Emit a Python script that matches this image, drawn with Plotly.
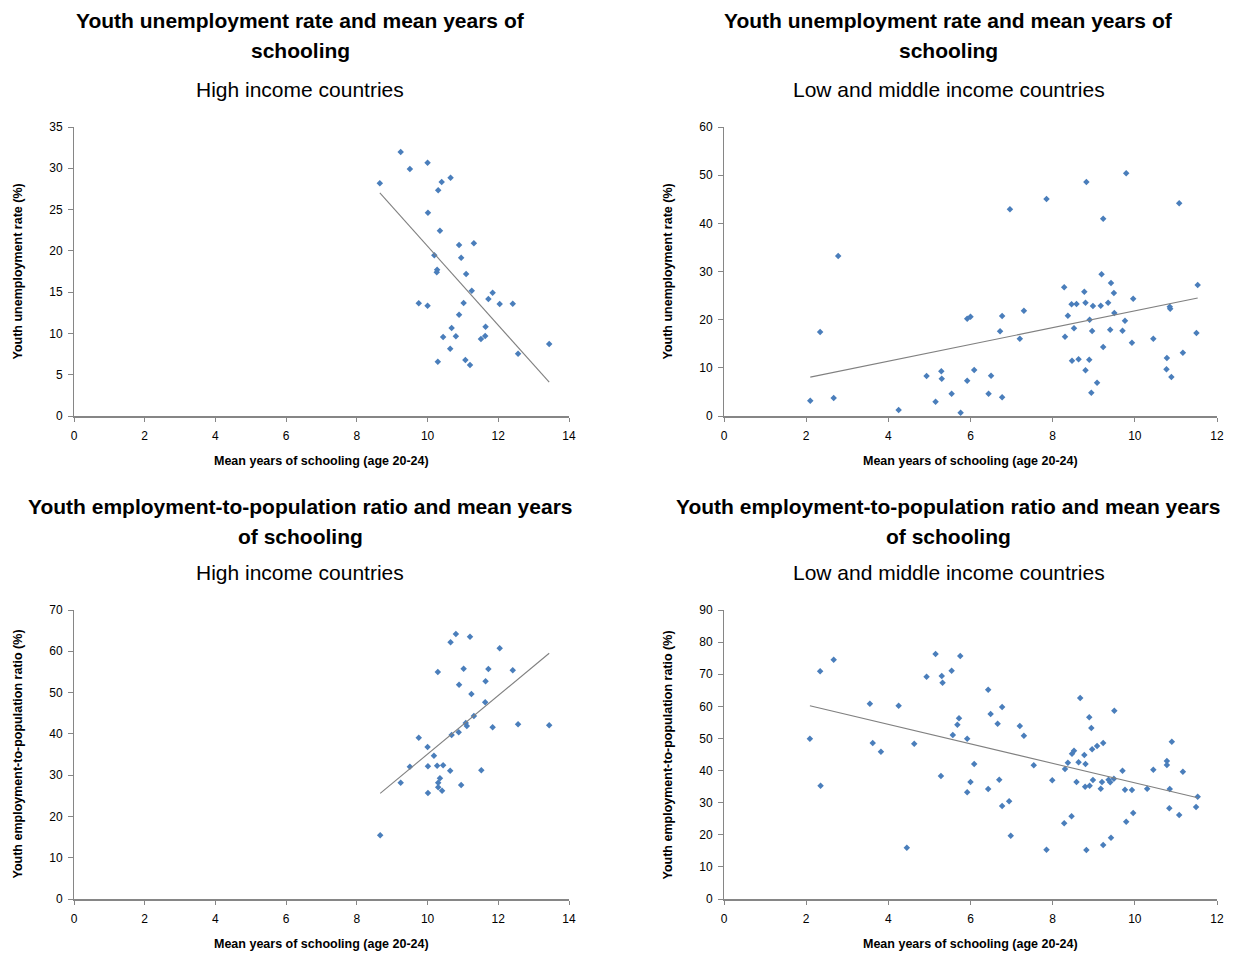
import numpy as np
import plotly.graph_objects as go

# ---------------- Data ----------------
# Top-left: High income countries, unemployment
hi_unemp_x = [9.24, 10.00, 9.50, 8.65, 10.65, 10.40, 10.30, 10.01, 10.35, 10.89, 11.31, 10.19, 10.95,
              10.27, 10.26, 11.09, 11.25, 11.84, 11.72, 9.75, 10.00, 11.02, 12.04, 12.41, 10.89, 10.68,
              11.64, 10.44, 10.80, 11.63, 11.51, 10.64, 13.44, 12.56, 10.29, 11.07, 11.20]
hi_unemp_y = [31.97, 30.68, 29.91, 28.18, 28.86, 28.34, 27.33, 24.62, 22.44, 20.71, 20.92, 19.46, 19.17,
              17.72, 17.40, 17.20, 15.17, 14.93, 14.17, 13.65, 13.36, 13.69, 13.56, 13.60, 12.27, 10.66,
              10.81, 9.57, 9.65, 9.69, 9.33, 8.15, 8.72, 7.55, 6.58, 6.78, 6.18]

# Top-right: Low and middle income countries, unemployment
lm_unemp_x = [2.10, 2.34, 2.78, 2.67, 4.25, 4.93, 5.15, 5.29, 5.30, 5.54, 5.76, 5.92, 6.00, 5.92, 6.09,
              6.50, 6.44, 6.77, 6.72, 6.77, 6.96, 7.30, 7.20, 7.85, 8.28, 8.30, 8.37, 8.46, 8.47, 8.52,
              8.58, 8.63, 8.77, 8.80, 8.80, 8.82, 8.90, 8.89, 8.94, 8.98, 8.96, 9.08, 9.17, 9.19, 9.23,
              9.23, 9.35, 9.40, 9.42, 9.49, 9.50, 9.70, 9.76, 9.79, 9.93, 9.96, 10.45, 10.78, 10.77,
              10.85, 10.86, 10.89, 11.08, 11.17, 11.50, 11.53]
lm_unemp_y = [3.18, 17.44, 33.22, 3.74, 1.25, 8.30, 2.97, 9.28, 7.74, 4.63, 0.69, 20.20, 20.61, 7.33, 9.55,
              8.37, 4.63, 20.76, 17.58, 3.88, 42.93, 21.86, 16.05, 45.05, 26.72, 16.46, 20.82, 23.19, 11.48, 18.21,
              23.25, 11.77, 25.80, 23.52, 9.49, 48.58, 19.99, 11.69, 4.84, 22.84, 17.65, 6.91, 22.90, 29.42, 40.96,
              14.32, 23.52, 17.92, 27.61, 25.53, 21.38, 17.71, 19.78, 50.38, 15.22, 24.35, 16.05, 12.04, 9.69,
              22.69, 22.28, 8.10, 44.16, 13.14, 17.23, 27.20]

# Bottom-left: High income countries, employment-to-population
hi_emp_x = [10.80, 11.20, 10.65, 12.04, 10.29, 11.02, 11.72, 12.41, 10.89, 11.64, 11.24, 11.63, 11.31,
            11.08, 11.11, 11.84, 12.56, 13.44, 10.88, 10.68, 9.75, 10.00, 10.18, 9.50, 10.01, 10.27,
            10.44, 10.64, 11.52, 10.35, 9.24, 10.30, 10.95, 10.30, 10.01, 10.41, 8.66]
hi_emp_y = [64.18, 63.53, 62.17, 60.72, 54.98, 55.78, 55.70, 55.39, 51.90, 52.72, 49.65, 47.64, 44.32,
            42.63, 41.90, 41.58, 42.31, 42.07, 40.37, 39.72, 39.07, 36.81, 34.71, 32.04, 32.14, 32.28,
            32.38, 31.07, 31.17, 29.23, 28.17, 28.17, 27.61, 27.05, 25.67, 26.23, 15.43]

# Bottom-right: Low and middle income countries, employment-to-population
lm_emp_x = [2.09, 2.34, 2.35, 2.67, 3.55, 3.62, 3.82, 4.25, 4.45, 4.63, 4.93, 5.15, 5.30, 5.32, 5.28,
            5.54, 5.57, 5.72, 5.68, 5.75, 5.92, 5.92, 6.00, 6.09, 6.43, 6.43, 6.49, 6.66, 6.70, 6.77,
            6.77, 6.94, 6.98, 7.20, 7.30, 7.54, 7.85, 7.99, 8.28, 8.30, 8.37, 8.46, 8.47, 8.52, 8.58,
            8.63, 8.67, 8.77, 8.80, 8.79, 8.82, 8.89, 8.90, 8.94, 8.96, 8.98, 9.08, 9.17, 9.20, 9.23,
            9.23, 9.36, 9.40, 9.42, 9.49, 9.50, 9.70, 9.76, 9.79, 9.93, 9.96, 10.30, 10.45, 10.78,
            10.78, 10.85, 10.84, 10.90, 11.08, 11.17, 11.49, 11.53]
lm_emp_y = [49.92, 70.91, 35.28, 74.53, 60.82, 48.58, 45.87, 60.20, 15.98, 48.37, 69.23, 76.30, 69.45, 67.36, 38.31,
            71.10, 51.07, 56.28, 54.28, 75.68, 49.92, 33.23, 36.44, 42.04, 65.18, 34.26, 57.61, 54.59, 37.15, 59.79,
            28.96, 30.43, 19.71, 53.88, 50.86, 41.64, 15.35, 36.97, 23.58, 40.49, 42.45, 25.75, 45.25, 46.19, 36.44,
            42.57, 62.60, 44.85, 42.04, 34.97, 15.26, 56.59, 35.28, 53.25, 46.62, 37.06, 47.65, 34.35, 36.44, 48.58,
            16.82, 37.15, 36.34, 19.09, 37.46, 58.64, 39.96, 34.04, 24.07, 33.95, 26.78, 34.35, 40.27, 42.98,
            41.73, 34.26, 28.25, 48.99, 26.16, 39.64, 28.65, 31.86]

title_line1 = ["Youth unemployment rate and mean years of",
               "Youth unemployment rate and mean years of",
               "Youth employment-to-population ratio and mean years",
               "Youth employment-to-population ratio and mean years"]
title_line2 = ["schooling", "schooling", "of schooling", "of schooling"]
subtitles = ["High income countries", "Low and middle income countries",
             "High income countries", "Low and middle income countries"]
x_title = "Mean years of schooling (age 20-24)"
y_titles = ["Youth unemployment rate (%)", "Youth unemployment rate (%)",
            "Youth employment-to-population ratio (%)", "Youth employment-to-population ratio (%)"]
x_ranges = [[0, 14], [0, 12], [0, 14], [0, 12]]
y_ranges = [[0, 35], [0, 60], [0, 70], [0, 90]]
y_dticks = [5, 10, 10, 10]

datasets = [(hi_unemp_x, hi_unemp_y), (lm_unemp_x, lm_unemp_y),
            (hi_emp_x, hi_emp_y), (lm_emp_x, lm_emp_y)]

# ---------------- Layout geometry ----------------
W, H = 1235, 954
FONT = "Liberation Sans, Arial, sans-serif"
MARK = "#4A7EBB"

# pixel boxes (left, right, top, bottom)
boxes = [(74, 569, 127, 416), (724, 1217, 127, 416),
         (74, 569, 610, 899), (724, 1217, 610, 899)]
title_y = [(21, 51, 89), (21, 51, 89), (506, 536, 572), (506, 536, 572)]
title_cx = [300, 949, 300, 949]

fig = go.Figure()
annotations = []
layout_axes = {}


def ann(text, cx, cy, size, angle=0):
    return dict(text=text, x=cx / W, y=1 - cy / H, xref="paper", yref="paper",
                showarrow=False, xanchor="center", yanchor="middle", textangle=angle,
                font=dict(family=FONT, size=size, color="#000"))


for i, ((xs, ys), box) in enumerate(zip(datasets, boxes)):
    n = "" if i == 0 else str(i + 1)
    xa, ya = "x" + n, "y" + n
    fig.add_trace(go.Scatter(x=xs, y=ys, mode="markers", xaxis=xa, yaxis=ya,
                             marker=dict(symbol="diamond", size=5, color=MARK),
                             showlegend=False, hoverinfo="x+y"))
    # linear trendline
    k, b = np.polyfit(xs, ys, 1)
    lx = np.array([min(xs), max(xs)])
    fig.add_trace(go.Scatter(x=lx, y=k * lx + b, mode="lines", xaxis=xa, yaxis=ya,
                             line=dict(color="#808080", width=1.1),
                             showlegend=False, hoverinfo="skip"))
    l, r, t, bt = box
    layout_axes["xaxis" + n] = dict(
        domain=[l / W, r / W], range=x_ranges[i], dtick=2, anchor=ya, automargin=False,
        showgrid=False, zeroline=False, showline=True, linecolor="#868686", linewidth=2,
        ticks="outside", ticklen=4, tickcolor="#868686", ticklabelstandoff=4,
        tickfont=dict(family=FONT, size=12, color="#000"))
    layout_axes["yaxis" + n] = dict(
        domain=[1 - bt / H, 1 - t / H], range=y_ranges[i], dtick=y_dticks[i], anchor=xa,
        automargin=False,
        showgrid=False, zeroline=False, showline=True, linecolor="#868686", linewidth=1,
        ticks="outside", ticklen=5, tickcolor="#868686", ticklabelstandoff=3,
        tickfont=dict(family=FONT, size=12, color="#000"))
    ty1, ty2, ty3 = title_y[i]
    annotations.append(ann("<b>" + title_line1[i] + "</b>", title_cx[i], ty1, 21))
    annotations.append(ann("<b>" + title_line2[i] + "</b>", title_cx[i], ty2, 21))
    annotations.append(ann(subtitles[i], title_cx[i], ty3, 21))
    annotations.append(ann("<b>" + x_title + "</b>", (l + r) / 2, bt + 45, 12.5))
    annotations.append(ann("<b>" + y_titles[i] + "</b>", l - 57, (t + bt) / 2, 12.5, -90))

fig.update_layout(width=W, height=H, margin=dict(l=0, r=0, t=0, b=0, autoexpand=False),
                  paper_bgcolor="white", plot_bgcolor="white", template="none",
                  annotations=annotations, **layout_axes)
fig.write_html("out.html", config={"displayModeBar": False},
               post_script="document.body.style.margin='0px';document.body.style.overflow='hidden';")
